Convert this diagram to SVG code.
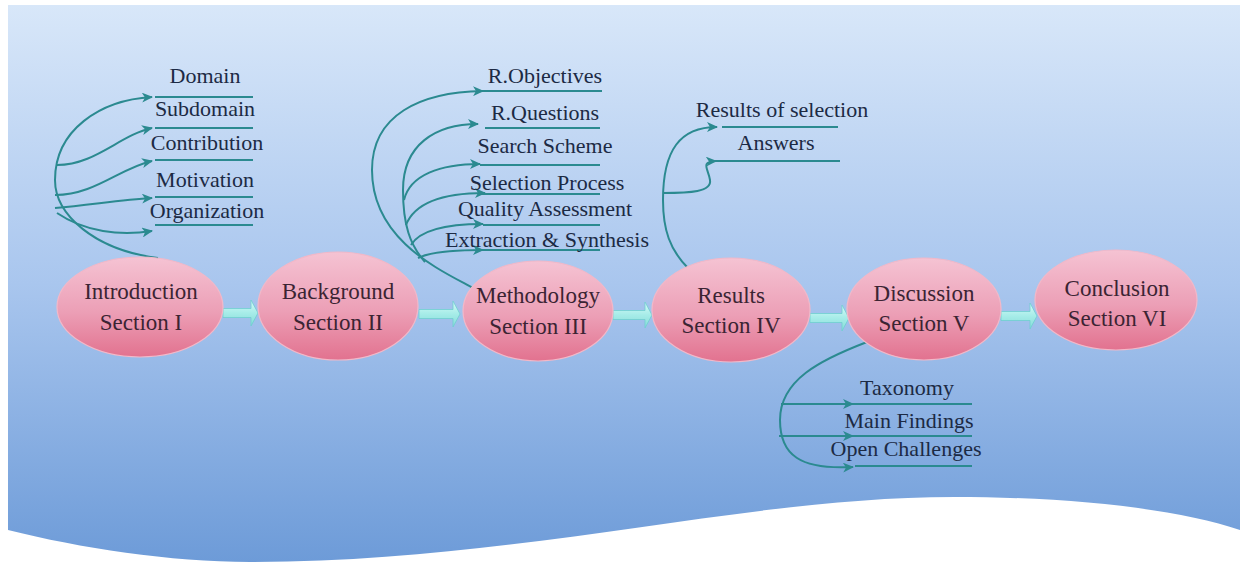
<svg xmlns="http://www.w3.org/2000/svg" width="1246" height="563" viewBox="0 0 1246 563">
<defs>
<linearGradient id="bg" x1="0" y1="5" x2="0" y2="562" gradientUnits="userSpaceOnUse">
<stop offset="0" stop-color="#d8e7f9"/>
<stop offset="0.5" stop-color="#a9c6ee"/>
<stop offset="1" stop-color="#6d9bd8"/>
</linearGradient>
<linearGradient id="pink" x1="0" y1="0" x2="0" y2="1">
<stop offset="0" stop-color="#f5c3d3"/>
<stop offset="0.55" stop-color="#ec9fb6"/>
<stop offset="1" stop-color="#e2728f"/>
</linearGradient>
<linearGradient id="aqua" x1="0" y1="0" x2="0" y2="1">
<stop offset="0" stop-color="#d8fbf8"/>
<stop offset="0.5" stop-color="#a6ece8"/>
<stop offset="1" stop-color="#86dcd8"/>
</linearGradient>
<marker id="ah" markerUnits="userSpaceOnUse" markerWidth="12" markerHeight="10" refX="10" refY="5" orient="auto">
<path d="M0,0 L11,5 L0,10 L3,5 Z" fill="#2b8a90"/>
</marker>
<style>
.node{fill:url(#pink);stroke:#f2b8c8;stroke-width:1.2}
.nt{font-family:"Liberation Serif","Times New Roman",serif;font-size:23px;fill:#3b2433;text-anchor:middle}
.lt{font-family:"Liberation Serif","Times New Roman",serif;font-size:22px;fill:#1c2a44;text-anchor:middle}
.c{fill:none;stroke:#2b8a90;stroke-width:2}
.a{stroke:#2b8a90;stroke-width:2;marker-end:url(#ah);fill:none}
.ul{stroke:#2b8a90;stroke-width:2.2}
.ba{fill:url(#aqua);stroke:#6fcfcf;stroke-width:0.8}
</style>
</defs>
<path d="M8,5 H1240 V530 C1180,510 1080,497 954,497 C740,497 520,562 250,562 C170,562 80,548 8,530 Z" fill="url(#bg)"/>
<g id="connectors">
<!-- Introduction -->
<path class="a" d="M158,258 C95,250 55,215 55,180 C55,130 100,100 152,97"/>
<path class="a" d="M57,165 C95,165 120,135 152,128"/>
<path class="a" d="M55,195 C95,195 120,168 152,161"/>
<path class="a" d="M55,208 C90,205 120,200 152,198"/>
<path class="a" d="M57,213 C85,232 120,236 152,231"/>
<line class="ul" x1="155" y1="97" x2="253" y2="97"/>
<line class="ul" x1="155" y1="128" x2="253" y2="128"/>
<line class="ul" x1="155" y1="160" x2="253" y2="160"/>
<line class="ul" x1="155" y1="197" x2="253" y2="197"/>
<line class="ul" x1="155" y1="225" x2="253" y2="225"/>
<!-- Methodology -->
<path class="a" d="M473,288 C440,270 372,240 372,170 C372,115 420,92 483,91"/>
<path class="a" d="M425,262 C410,245 403,225 403,190 C403,145 435,124 478,124"/>
<path class="a" d="M404,200 C410,175 440,164 480,164"/>
<path class="a" d="M406,225 C415,202 445,193 485,193"/>
<path class="a" d="M411,245 C420,230 445,224 483,224"/>
<path class="a" d="M418,258 C430,252 450,250 483,250"/>
<line class="ul" x1="483" y1="91" x2="602" y2="91"/>
<line class="ul" x1="485" y1="128" x2="600" y2="128"/>
<line class="ul" x1="480" y1="165" x2="600" y2="165"/>
<line class="ul" x1="480" y1="194" x2="600" y2="194"/>
<line class="ul" x1="483" y1="225" x2="600" y2="225"/>
<line class="ul" x1="483" y1="250" x2="600" y2="250"/>
<!-- Results -->
<path class="a" d="M688,268 C670,250 663,230 663,200 C663,150 680,127 717,127"/>
<path class="a" d="M663,193 C690,193 712,192 710,180 C708,168 700,162 716,161"/>
<line class="ul" x1="722" y1="127" x2="838" y2="127"/>
<line class="ul" x1="715" y1="161" x2="840" y2="161"/>
<!-- Discussion -->
<path class="a" d="M867,342 C820,360 780,380 780,420 C780,455 800,470 853,467"/>
<path class="a" d="M781,404 L853,404"/>
<path class="a" d="M779,436 L853,436"/>
<line class="ul" x1="853" y1="404" x2="972" y2="404"/>
<line class="ul" x1="853" y1="436" x2="972" y2="436"/>
<line class="ul" x1="855" y1="466" x2="972" y2="466"/>
<!-- block arrows between sections -->
<path class="ba" d="M223,308.5 H251 V300 L258,313 L251,326 V317.5 H223 Z"/>
<path class="ba" d="M419,309.5 H453 V301 L460,314 L453,327 V318.5 H419 Z"/>
<path class="ba" d="M613,310.5 H645 V302 L652,315 L645,328 V319.5 H613 Z"/>
<path class="ba" d="M810,313.5 H842 V305 L849,318 L842,331 V322.5 H810 Z"/>
<path class="ba" d="M1001,311.5 H1030 V303 L1037,316 L1030,329 V320.5 H1001 Z"/>
</g>
<g id="labels">
<text class="lt" x="205" y="83">Domain</text>
<text class="lt" x="205" y="116">Subdomain</text>
<text class="lt" x="207" y="150">Contribution</text>
<text class="lt" x="205" y="187">Motivation</text>
<text class="lt" x="207" y="218">Organization</text>
<text class="lt" x="545" y="83">R.Objectives</text>
<text class="lt" x="545" y="120">R.Questions</text>
<text class="lt" x="545" y="153">Search Scheme</text>
<text class="lt" x="547" y="190">Selection Process</text>
<text class="lt" x="545" y="216">Quality Assessment</text>
<text class="lt" x="547" y="247">Extraction &amp; Synthesis</text>
<text class="lt" x="782" y="117">Results of selection</text>
<text class="lt" x="776" y="150">Answers</text>
<text class="lt" x="907" y="395">Taxonomy</text>
<text class="lt" x="909" y="428">Main Findings</text>
<text class="lt" x="906" y="456">Open Challenges</text>
</g>
<g id="introduction">
<ellipse class="node" cx="140" cy="307" rx="83" ry="50"/>
<text class="nt" x="141" y="299">Introduction</text>
<text class="nt" x="141" y="330">Section I</text>
</g>
<g id="background">
<ellipse class="node" cx="338" cy="306" rx="80" ry="54"/>
<text class="nt" x="338" y="299">Background</text>
<text class="nt" x="338" y="330">Section II</text>
</g>
<g id="methodology">
<ellipse class="node" cx="538" cy="311" rx="75" ry="50"/>
<text class="nt" x="538" y="303">Methodology</text>
<text class="nt" x="538" y="334">Section III</text>
</g>
<g id="results">
<ellipse class="node" cx="731" cy="310" rx="79" ry="52"/>
<text class="nt" x="731" y="303">Results</text>
<text class="nt" x="731" y="333">Section IV</text>
</g>
<g id="discussion">
<ellipse class="node" cx="924" cy="309" rx="77" ry="51"/>
<text class="nt" x="924" y="301">Discussion</text>
<text class="nt" x="924" y="331">Section V</text>
</g>
<g id="conclusion">
<ellipse class="node" cx="1116" cy="300" rx="81" ry="50"/>
<text class="nt" x="1117" y="296">Conclusion</text>
<text class="nt" x="1117" y="326">Section VI</text>
</g>
</svg>
